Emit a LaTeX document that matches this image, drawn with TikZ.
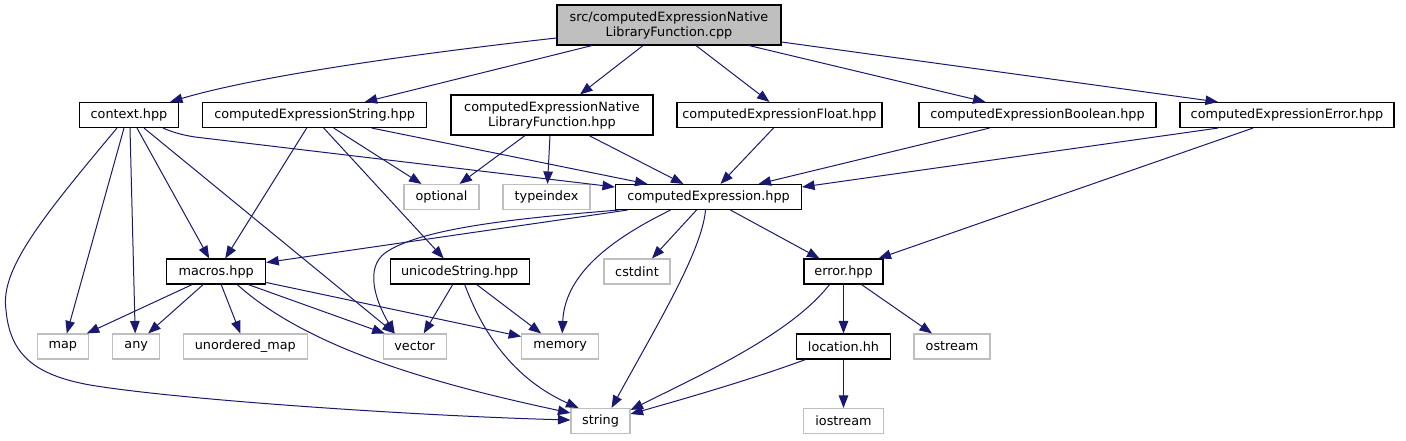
\documentclass[tikz,border=0pt]{standalone}
\usepackage{fontspec}
\setmainfont{DejaVu Sans}
\usetikzlibrary{arrows.meta}
\definecolor{edgec}{RGB}{25,25,112}
\definecolor{grayb}{RGB}{191,191,191}
\begin{document}
\begin{tikzpicture}[x=1pt,y=-1pt,
  box/.style={draw=black,line width=1.1pt,inner sep=0pt,minimum height=25pt,
    font=\fontsize{12.8}{15}\selectfont,align=center},
  sysbox/.style={box,draw=grayb},
  twoline/.style={minimum height=40pt},
  rootbox/.style={box,twoline,fill=grayb},
  dep/.style={draw=edgec,line width=1pt,-{Triangle[length=12.5pt,width=9.5pt]}}]
\useasboundingbox (0,0) rectangle (1406,440);
% nodes
\node[rootbox,minimum width=224pt] (root) at (669,25) {src/computedExpressionNative\\LibraryFunction.cpp};
\node[box,minimum width=99pt] (ctx) at (129,115) {context.hpp};
\node[box,minimum width=224pt] (ces) at (314.7,115) {computedExpressionString.hpp};
\node[box,twoline,minimum width=202pt] (nlf) at (552,115) {computedExpressionNative\\LibraryFunction.hpp};
\node[box,minimum width=205pt] (cef) at (779.5,115) {computedExpressionFloat.hpp};
\node[box,minimum width=237pt] (ceb) at (1037.5,115) {computedExpressionBoolean.hpp};
\node[box,minimum width=214pt] (cee) at (1287,115) {computedExpressionError.hpp};
\node[sysbox,minimum width=75pt] (opt) at (441.5,197) {optional};
\node[sysbox,minimum width=87pt] (tix) at (546.5,197) {typeindex};
\node[box,minimum width=186pt] (ce) at (708.5,197) {computedExpression.hpp};
\node[box,minimum width=99pt] (mac) at (216.2,271.5) {macros.hpp};
\node[box,minimum width=139pt] (uni) at (459.7,271.5) {unicodeString.hpp};
\node[sysbox,minimum width=66pt] (cst) at (637,271.5) {cstdint};
\node[box,minimum width=79pt] (err) at (843.5,271.5) {error.hpp};
\node[sysbox,minimum width=51pt] (map) at (62.8,346.5) {map};
\node[sysbox,minimum width=47pt] (any) at (136.2,346.5) {any};
\node[sysbox,minimum width=124pt] (umap) at (245.3,346.5) {unordered\_map};
\node[sysbox,minimum width=63pt] (vec) at (414.7,346.5) {vector};
\node[sysbox,minimum width=77pt] (mem) at (560.2,346.5) {memory};
\node[box,minimum width=94pt] (loc) at (843.5,346.5) {location.hh};
\node[sysbox,minimum width=76pt] (ost) at (952,346.5) {ostream};
\node[sysbox,minimum width=59pt] (str) at (600.5,421) {string};
\node[sysbox,minimum width=80pt] (ios) at (843.5,421) {iostream};
% edges from root
\draw[dep] ([yshift=-13]root.west) .. controls (430,52) and (260,75) .. ([xshift=41]ctx.north);
\draw[dep] ([xshift=-77]root.south) -- ([xshift=50]ces.north);
\draw[dep] ([xshift=-26]root.south) -- ([xshift=28]nlf.north);
\draw[dep] ([xshift=27]root.south) -- ([xshift=-10]cef.north);
\draw[dep] ([xshift=80]root.south) -- ([xshift=-52]ceb.north);
\draw[dep] ([yshift=-17]root.east) -- ([xshift=-69]cee.north);
% context
\draw[dep] ([xshift=34]ctx.south) .. controls (172,132) and (182,135) .. (195,137) -- ([yshift=10]ce.west);
\draw[dep] ([xshift=8]ctx.south) -- ([xshift=-7]mac.north);
\draw[dep] ([xshift=-5]ctx.south) -- ([xshift=4]map.north);
\draw[dep] ([xshift=1]ctx.south) -- ([xshift=-1]any.north);
\draw[dep] ([xshift=15]ctx.south) -- ([xshift=-20]vec.north);
\draw[dep] ([xshift=-12]ctx.south) .. controls (40,220) and (0,270) .. (6,310)
  .. controls (10,355) and (35,375) .. (90,385)
  .. controls (180,400) and (420,416) .. ([yshift=1]str.west);
% computedExpressionString
\draw[dep] ([xshift=-8]ces.south) -- ([xshift=9]mac.north);
\draw[dep] ([xshift=9]ces.south) -- ([xshift=-16]uni.north);
\draw[dep] ([xshift=19]ces.south) -- ([xshift=-20]opt.north);
\draw[dep] ([xshift=57]ces.south) -- ([xshift=-61]ce.north);
% native library function
\draw[dep] ([xshift=-27]nlf.south) -- ([xshift=18]opt.north);
\draw[dep] ([xshift=-2]nlf.south) -- ([xshift=1]tix.north);
\draw[dep] ([xshift=37]nlf.south) -- ([xshift=-25]ce.north);
% float, boolean, error
\draw[dep] ([xshift=-6]cef.south) -- ([xshift=12]ce.north);
\draw[dep] ([xshift=-48]ceb.south) -- ([xshift=50]ce.north);
\draw[dep] ([xshift=-69]cee.south) -- ([yshift=10]ce.east);
\draw[dep] ([xshift=-34]cee.south) -- ([xshift=35]err.north);
% computedExpression
\draw[dep] ([xshift=-81]ce.south) -- ([yshift=9]mac.east);
\draw[dep] ([xshift=-90]ce.south) .. controls (520,218) and (420,228) .. (385,253)
  .. controls (365,268) and (375,300) .. ([xshift=-20]vec.north);
\draw[dep] ([xshift=-12]ce.south) -- ([xshift=15]cst.north);
\draw[dep] ([xshift=-38]ce.south) .. controls (620,235) and (565,270) .. ([xshift=2]mem.north);
\draw[dep] ([xshift=-3]ce.south) .. controls (702,250) and (660,320) .. ([xshift=11]str.north);
\draw[dep] ([xshift=22]ce.south) -- ([xshift=-24]err.north);
% macros
\draw[dep] ([xshift=-24]mac.south) -- ([xshift=24]map.north);
\draw[dep] ([xshift=-13]mac.south) -- ([xshift=12]any.north);
\draw[dep] ([xshift=5]mac.south) -- ([xshift=-5]umap.north);
\draw[dep] ([xshift=32]mac.south) -- ([xshift=-30]vec.north);
\draw[dep] ([yshift=-11]mac.east) -- ([yshift=10]mem.west);
\draw[dep] ([xshift=21]mac.south) .. controls (310,350) and (440,385) .. ([yshift=8]str.west);
% unicodeString
\draw[dep] ([xshift=-7]uni.south) -- ([xshift=9]vec.north);
\draw[dep] ([xshift=17]uni.south) -- ([xshift=-19]mem.north);
\draw[dep] ([xshift=5]uni.south) .. controls (478,320) and (505,375) .. ([xshift=-22]str.north);
% error
\draw[dep] (err.south) -- (loc.north);
\draw[dep] ([xshift=18]err.south) -- ([xshift=-20]ost.north);
\draw[dep] ([xshift=-14]err.south) .. controls (790,335) and (700,375) .. ([yshift=11]str.east);
% location
\draw[dep] ([xshift=-38]loc.south) .. controls (750,380) and (680,400) .. ([yshift=7]str.east);
\draw[dep] (loc.south) -- (ios.north);
\end{tikzpicture}
\end{document}
